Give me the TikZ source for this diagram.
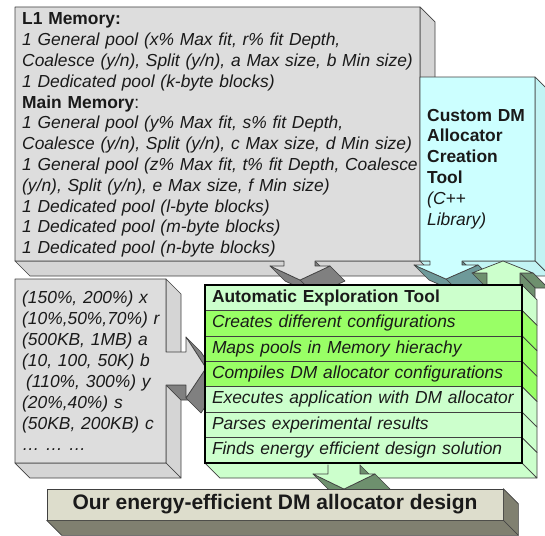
\documentclass[tikz,border=0pt]{standalone}
\usepackage{fontspec}
\setmainfont{Liberation Sans}
\usetikzlibrary{calc,positioning}

\definecolor{ink}{HTML}{1A1A1A}
\definecolor{edgeline}{HTML}{404040}
\definecolor{memgray}{HTML}{DDDDDD}
\definecolor{memshade}{HTML}{D5D5D5}
\definecolor{memdeep}{HTML}{808080}
\definecolor{toolcyan}{HTML}{CCFFFF}
\definecolor{cyanshade}{HTML}{C2F4F4}
\definecolor{cyandeep}{HTML}{6E9A9A}
\definecolor{paleg}{HTML}{CCFFCC}
\definecolor{brightg}{HTML}{99FF66}
\definecolor{greendeep}{HTML}{6E906E}
\definecolor{barface}{HTML}{DDDDCC}
\definecolor{barshade}{HTML}{808070}

% depth of the extruded faces
\newcommand{\dep}{15}
% one side face: the edge (#2)--(#3) pushed back by \dep
\newcommand{\sideFace}[3]{%
  \filldraw[#1] (#2) -- (#3) -- ([shift={(\dep,\dep)}]#3) -- ([shift={(\dep,\dep)}]#2) -- cycle;}

\tikzset{
  outline/.style={draw=edgeline, line width=0.7pt, line join=round},
  memfront/.style={outline, fill=memgray},
  memside/.style={outline, fill=memshade},
  memdark/.style={outline, fill=memdeep},
  cyanfront/.style={outline, fill=toolcyan},
  cyanside/.style={outline, fill=cyanshade},
  cyandark/.style={outline, fill=cyandeep},
  greenside/.style={outline, fill=greendeep},
  txt/.style={anchor=base west, inner sep=0pt, text width=400pt, align=left,
    text=ink, font=\fontsize{17.4}{20.8}\selectfont},
  toolrow/.style={draw=edgeline, line width=0.7pt, minimum height=25.43pt,
    minimum width=317pt, text width=303pt, inner xsep=7pt, inner ysep=0pt,
    outer sep=0pt, align=left, text=ink, font=\fontsize{17.4}{20.8}\selectfont\itshape}
}

\begin{document}
\begin{tikzpicture}[x=1pt, y=-1pt]
  \useasboundingbox (0,0) rectangle (545,535);

  % memory pools callout
  \sideFace{memside}{420,7}{420,261}
  \sideFace{memside}{15,261}{420,261}
  \sideFace{memdark}{315,261}{315,266}
  \sideFace{memdark}{330,266}{300,280}
  \sideFace{memdark}{300,280}{270,266}
  \draw[memfront] (15,7) -- (420,7) -- (420,261) -- (315,261) -- (315,266) -- (330,266)
    -- (300,280) -- (270,266) -- (284,266) -- (284,261) -- (15,261) -- cycle;
  \node[txt] (pools) at (22,24.9) {\textbf{L1 Memory:}\\
    \textit{1 General pool (x\% Max fit, r\% fit Depth,}\\
    \textit{Coalesce (y/n), Split (y/n), a Max size, b Min size)}\\
    \textit{1 Dedicated pool (k-byte blocks)}\\
    \textbf{Main Memory}:\\
    \textit{1 General pool (y\% Max fit, s\% fit Depth,}\\
    \textit{Coalesce (y/n), Split (y/n), c Max size, d Min size)}\\
    \textit{1 General pool (z\% Max fit, t\% fit Depth, Coalesce}\\
    \textit{(y/n), Split (y/n), e Max size, f Min size)}\\
    \textit{1 Dedicated pool (l-byte blocks)}\\
    \textit{1 Dedicated pool (m-byte blocks)}\\
    \textit{1 Dedicated pool (n-byte blocks)}};

  % allocator creation tool
  \sideFace{cyanside}{535,77}{535,261}
  \sideFace{cyanside}{420,261}{535,261}
  \sideFace{cyandark}{462,261}{462,265}
  \sideFace{cyandark}{478,265}{446,279}
  \sideFace{cyandark}{446,279}{414,265}
  \draw[cyanfront] (420,77) -- (535,77) -- (535,261) -- (462,261) -- (462,265) -- (478,265)
    -- (446,279) -- (414,265) -- (430,265) -- (430,261) -- (420,261) -- cycle;
  \node[txt, text width=110pt] (creator) at (427,121) {\textbf{Custom DM}\\
    \textbf{Allocator}\\ \textbf{Creation}\\ \textbf{Tool}\\
    \textit{(C++}\\ \textit{Library)}};

  % parameter ranges
  \sideFace{memside}{166,279}{166,352}
  \sideFace{memside}{166,385}{166,463}
  \sideFace{memside}{15,463}{166,463}
  \sideFace{memdark}{186,385}{166,385}
  \sideFace{memdark}{186,337}{206,368}
  \sideFace{memdark}{206,368}{186,398}
  \draw[memfront] (15,279) -- (166,279) -- (166,352) -- (186,352) -- (186,337) -- (206,368)
    -- (186,398) -- (186,385) -- (166,385) -- (166,463) -- (15,463) -- cycle;
  \node[txt, text width=150pt, font=\fontsize{17.4}{21.1}\selectfont\itshape] (ranges) at (22,303)
    {(150\%, 200\%) x\\ (10\%,50\%,70\%) r\\ (500KB, 1MB) a\\ (10, 100, 50K) b\\
     \hspace*{4pt}(110\%, 300\%) y\\ (20\%,40\%) s\\ (50KB, 200KB) c\\ … … …};

  % feedback arrow into the creation tool
  \sideFace{greenside}{472,273}{487,273}
  \sideFace{greenside}{520,273}{533,273}
  \sideFace{greenside}{520,273}{520,292}
  \draw[outline, fill=paleg] (487,292) -- (487,273) -- (472,273) -- (503,261) -- (533,273)
    -- (520,273) -- (520,292) -- cycle;

  % exploration tool
  \node[toolrow, fill=paleg, anchor=north west, font=\fontsize{17.4}{20.8}\selectfont\bfseries]
    (auto) at (205,285) {Automatic Exploration Tool};
  \node[toolrow, fill=brightg, below=0pt of auto] (create) {Creates different configurations};
  \node[toolrow, fill=brightg, below=0pt of create] (maps) {Maps pools in Memory hierachy};
  \node[toolrow, fill=brightg, below=0pt of maps] (compile) {Compiles DM allocator configurations};
  \node[toolrow, fill=paleg, below=0pt of compile] (exec) {Executes application with DM allocator};
  \node[toolrow, fill=paleg, below=0pt of exec] (parse) {Parses experimental results};
  \node[toolrow, fill=paleg, below=0pt of parse] (finds) {Finds energy efficient design solution};
  \foreach \r/\c in {auto/paleg, create/brightg, maps/brightg, compile/brightg,
                     exec/paleg, parse/paleg, finds/paleg}
    \sideFace{outline, fill=\c}{\r.north east}{\r.south east};
  \sideFace{outline, fill=paleg}{finds.south west}{finds.south east}
  \draw[line width=2.6pt] (auto.north west) rectangle (finds.south east);

  % result arrow
  \sideFace{greenside}{360,465}{360,474}
  \sideFace{greenside}{375,474}{344,489}
  \sideFace{greenside}{344,489}{313,474}
  \fill[paleg] (328,464.5) -- (328,474) -- (313,474) -- (344,489) -- (375,474) -- (360,474)
    -- (360,464.5) -- cycle;
  \draw[outline] (328,464.5) -- (328,474) -- (313,474) -- (344,489) -- (375,474) -- (360,474)
    -- (360,464.5);

  % final design bar
  \node[outline, fill=barface, minimum width=456pt, minimum height=31pt, inner sep=0pt,
    text=ink, font=\fontsize{21}{24}\selectfont\bfseries] (design) at (275,504.5)
    {Our energy-efficient DM allocator design};
  \sideFace{outline, fill=barshade}{design.north east}{design.south east}
  \sideFace{outline, fill=barshade}{design.south west}{design.south east}
\end{tikzpicture}
\end{document}
